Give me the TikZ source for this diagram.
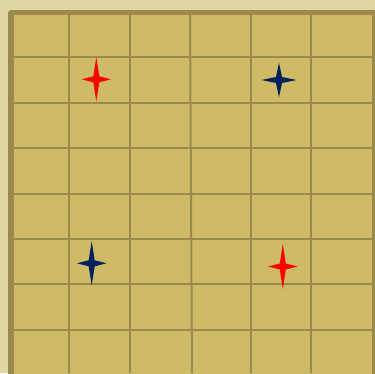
\documentclass[tikz,border=0pt]{standalone}
\definecolor{bgc}{HTML}{E2D5A5}
\definecolor{brd}{HTML}{9A8A4C}
\definecolor{cell}{HTML}{CFBA68}
\definecolor{navy}{HTML}{00215E}
\definecolor{starred}{HTML}{FF0000}
\tikzset{
  gridline/.style={draw=brd,line width=2pt},
  pics/sparkle/.style args={#1/#2/#3}{code={
    \fill[#3] (0,-#2) -- (3,-3) -- (#1,0) -- (3,3) -- (0,#2) -- (-3,3) -- (-#1,0) -- (-3,-3) -- cycle;
  }}
}
\begin{document}
\begin{tikzpicture}[x=1pt,y=-1pt]
\useasboundingbox (0,0) rectangle (375,373);
\fill[bgc] (0,0) rectangle (375,373);
\fill[brd,rounded corners=3pt] (8,10) rectangle (380,380);
\fill[cell] (14,15) rectangle (372,380);
% vertical lines
\draw[gridline] (69,15) -- (69,373);
\draw[gridline] (130,15) -- (130,373);
\draw[gridline] (190,15) -- (192,373);
\draw[gridline] (250.5,15) -- (250.5,373);
\draw[gridline] (310.5,15) -- (310.5,373);
% horizontal lines
\foreach \y in {57.3,102.8,148.3,193.5,239,284.2,329.5}
  \draw[gridline] (14,\y) -- (372,\y);
% stars
\pic at (96.3,79.3) {sparkle={14.7/22/starred}};
\pic at (279,80) {sparkle={17.5/17.3/navy}};
\pic at (91.7,263.3) {sparkle={14.7/22/navy}};
\pic at (282.8,266.5) {sparkle={14.7/22.7/starred}};
\end{tikzpicture}
\end{document}
